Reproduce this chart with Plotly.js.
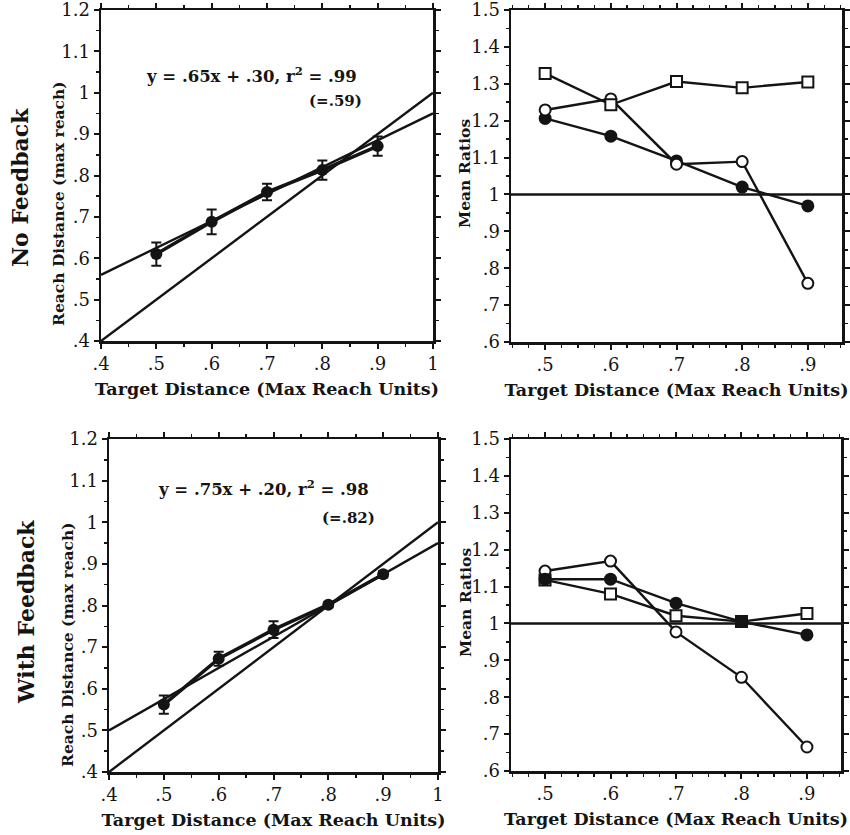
<!DOCTYPE html>
<html>
<head>
<meta charset="utf-8">
<script src="https://cdn.plot.ly/plotly-3.0.1.min.js"></script>
<style>html,body{margin:0;padding:0;background:#fff;}#chart{width:850px;height:835px;}</style>
</head>
<body>
<div id="chart"></div>
<script>
// ---------- data ----------
const targetDist = [0.5, 0.6, 0.7, 0.8, 0.9];

// Left panels: reach distance (max reach) with error bars
const noFbReach = [0.610, 0.688, 0.760, 0.813, 0.871];
const noFbErr   = [0.028, 0.030, 0.020, 0.023, 0.023];
const wFbReach  = [0.562, 0.672, 0.742, 0.802, 0.875];
const wFbErr    = [0.022, 0.017, 0.020, 0.006, 0.008];

// Regression fits (slope, intercept) and the identity line, over the x-axis span
const fitSpan = [0.4, 1.0];
const noFbFit = {slope: 0.65, intercept: 0.30};
const wFbFit  = {slope: 0.75, intercept: 0.20};

// Right panels: mean ratios
const noFbFilled  = [1.206, 1.158, 1.091, 1.020, 0.969];
const noFbOpen    = [1.229, 1.259, 1.082, 1.089, 0.759];
const noFbSquares = [1.328, 1.243, 1.306, 1.289, 1.305];
const wFbFilled   = [1.120, 1.120, 1.055, 1.005, 0.969];
const wFbOpen     = [1.142, 1.169, 0.977, 0.854, 0.665];
const wFbSquares  = [1.118, 1.080, 1.021, 1.005, 1.027];
const refRatio = 1;

// Tick labels
const leftXTickVals  = [0.4, 0.5, 0.6, 0.7, 0.8, 0.9, 1.0];
const leftXTickText  = ['.4', '.5', '.6', '.7', '.8', '.9', '1'];
const leftYTickVals  = [0.4, 0.5, 0.6, 0.7, 0.8, 0.9, 1.0, 1.1, 1.2];
const leftYTickText  = ['.4', '.5', '.6', '.7', '.8', '.9', '1', '1.1', '1.2'];
const rightXTickVals = [0.5, 0.6, 0.7, 0.8, 0.9];
const rightXTickText = ['.5', '.6', '.7', '.8', '.9'];
const rightYTickVals = [0.6, 0.7, 0.8, 0.9, 1.0, 1.1, 1.2, 1.3, 1.4, 1.5];
const rightYTickText = ['.6', '.7', '.8', '.9', '1', '1.1', '1.2', '1.3', '1.4', '1.5'];

const texts = {
  xTitle: 'Target Distance (Max Reach Units)',
  leftYTitle: 'Reach Distance (max reach)',
  rightYTitle: 'Mean Ratios',
  rowTop: 'No Feedback',
  rowBottom: 'With Feedback',
  eqTop: 'y = .65x + .30, r<sup>2</sup> = .99',
  eqTopSub: '(=.59)',
  eqBottom: 'y = .75x + .20, r<sup>2</sup> = .98',
  eqBottomSub: '(=.82)'
};

// ---------- styling ----------
const INK = '#141414';
const FONT = 'DejaVu Serif, Liberation Serif, serif';

function lineTrace(xs, ys, xa, ya, w) {
  return {x: xs, y: ys, xaxis: xa, yaxis: ya, mode: 'lines', type: 'scatter',
          line: {color: INK, width: w}, hoverinfo: 'skip', showlegend: false};
}
function fitTrace(fit, xa, ya) {
  return lineTrace(fitSpan, fitSpan.map(v => fit.slope * v + fit.intercept), xa, ya, 2.4);
}
function reachTrace(ys, errs, xa, ya) {
  return {x: targetDist, y: ys, xaxis: xa, yaxis: ya, type: 'scatter', mode: 'lines+markers',
          line: {color: INK, width: 3.5},
          marker: {symbol: 'circle', size: 12, color: INK},
          error_y: {type: 'data', array: errs, visible: true, color: INK, thickness: 2, width: 5},
          showlegend: false};
}
function ratioTrace(ys, symbol, filled, xa, ya) {
  return {x: targetDist, y: ys, xaxis: xa, yaxis: ya, type: 'scatter', mode: 'lines+markers',
          line: {color: INK, width: 2.4},
          marker: {symbol: symbol, size: 11,
                   color: filled ? INK : '#ffffff', line: {color: INK, width: 2}},
          showlegend: false};
}

const traces = [
  // top-left
  lineTrace(fitSpan, fitSpan, 'x', 'y', 2.4),
  fitTrace(noFbFit, 'x', 'y'),
  reachTrace(noFbReach, noFbErr, 'x', 'y'),
  // top-right
  ratioTrace(noFbFilled, 'circle', true, 'x2', 'y2'),
  ratioTrace(noFbOpen, 'circle', false, 'x2', 'y2'),
  ratioTrace(noFbSquares, 'square', false, 'x2', 'y2'),
  // bottom-left
  lineTrace(fitSpan, fitSpan, 'x3', 'y3', 2.4),
  fitTrace(wFbFit, 'x3', 'y3'),
  reachTrace(wFbReach, wFbErr, 'x3', 'y3'),
  // bottom-right
  ratioTrace(wFbOpen, 'circle', false, 'x4', 'y4'),
  ratioTrace(wFbSquares, 'square', false, 'x4', 'y4'),
  ratioTrace(wFbFilled, 'circle', true, 'x4', 'y4')
];

function axis(domain, range, tv, tt, minorDt, titleText, anchor) {
  const a = {
    domain: domain, range: range, anchor: anchor,
    tickmode: 'array', tickvals: tv, ticktext: tt,
    ticks: 'outside', ticklen: 5, tickwidth: 2, tickcolor: INK,
    minor: {dtick: minorDt, tick0: 0, ticks: 'outside', ticklen: 3, tickwidth: 1.5, tickcolor: INK, showgrid: false},
    showline: true, linewidth: 2.5, linecolor: INK, mirror: 'allticks',
    showgrid: false, zeroline: false, ticklabeloverflow: 'allow',
    tickfont: {family: FONT, size: 18, color: INK}
  };
  if (titleText) {
    a.title = {text: titleText, standoff: 10,
               font: {family: FONT, size: 17.5, color: INK, weight: 700}};
  }
  return a;
}

const W = 850, H = 835;
const dx = (a, b) => [a / W, b / W];
const dy = (top, bottom) => [1 - bottom / H, 1 - top / H];
const px = v => v / W;
const py = v => 1 - v / H;

function note(text, x, y, size, weight, angle) {
  return {text: text, xref: 'paper', yref: 'paper', x: px(x), y: py(y), textangle: angle || 0,
          showarrow: false, xanchor: 'center', yanchor: 'middle',
          font: {family: FONT, size: size, color: INK, weight: weight}};
}

const layout = {
  width: W, height: H,
  margin: {l: 0, r: 0, t: 0, b: 0},
  paper_bgcolor: '#ffffff', plot_bgcolor: '#ffffff',
  font: {family: FONT, color: INK},
  xaxis:  axis(dx(101, 433), [0.4, 1.0], leftXTickVals, leftXTickText, 0.05, texts.xTitle, 'y'),
  yaxis:  axis(dy(10, 341), [0.4, 1.2], leftYTickVals, leftYTickText, 0.05, null, 'x'),
  xaxis2: axis(dx(511, 842), [0.448, 0.952], rightXTickVals, rightXTickText, 0.025, texts.xTitle, 'y2'),
  yaxis2: axis(dy(10, 342), [0.6, 1.5], rightYTickVals, rightYTickText, 0.05, null, 'x2'),
  xaxis3: axis(dx(109, 438), [0.4, 1.0], leftXTickVals, leftXTickText, 0.05, texts.xTitle, 'y3'),
  yaxis3: axis(dy(439, 772), [0.4, 1.2], leftYTickVals, leftYTickText, 0.05, null, 'x3'),
  xaxis4: axis(dx(511, 841), [0.448, 0.952], rightXTickVals, rightXTickText, 0.025, texts.xTitle, 'y4'),
  yaxis4: axis(dy(439, 771), [0.6, 1.5], rightYTickVals, rightYTickText, 0.05, null, 'x4'),
  shapes: [
    {type: 'line', xref: 'x2 domain', yref: 'y2', x0: 0, x1: 1, y0: refRatio, y1: refRatio, line: {color: INK, width: 2.4}},
    {type: 'line', xref: 'x4 domain', yref: 'y4', x0: 0, x1: 1, y0: refRatio, y1: refRatio, line: {color: INK, width: 2.4}}
  ],
  annotations: [
    note(texts.rowTop, 20, 188, 22, 700, -90),
    note(texts.rowBottom, 26, 612, 22, 700, -90),
    note(texts.leftYTitle, 58, 204, 15.5, 700, -90),
    note(texts.leftYTitle, 67, 645, 15.5, 700, -90),
    note(texts.rightYTitle, 465, 174, 15.5, 700, -90),
    note(texts.rightYTitle, 465, 603, 15.5, 700, -90),
    note(texts.eqTop, 251, 75, 16.5, 700),
    note(texts.eqTopSub, 335, 101, 15, 700),
    note(texts.eqBottom, 263, 488, 16.5, 700),
    note(texts.eqBottomSub, 348, 518, 15, 700)
  ]
};

Plotly.newPlot('chart', traces, layout, {staticPlot: true, displayModeBar: false});
</script>
</body>
</html>
